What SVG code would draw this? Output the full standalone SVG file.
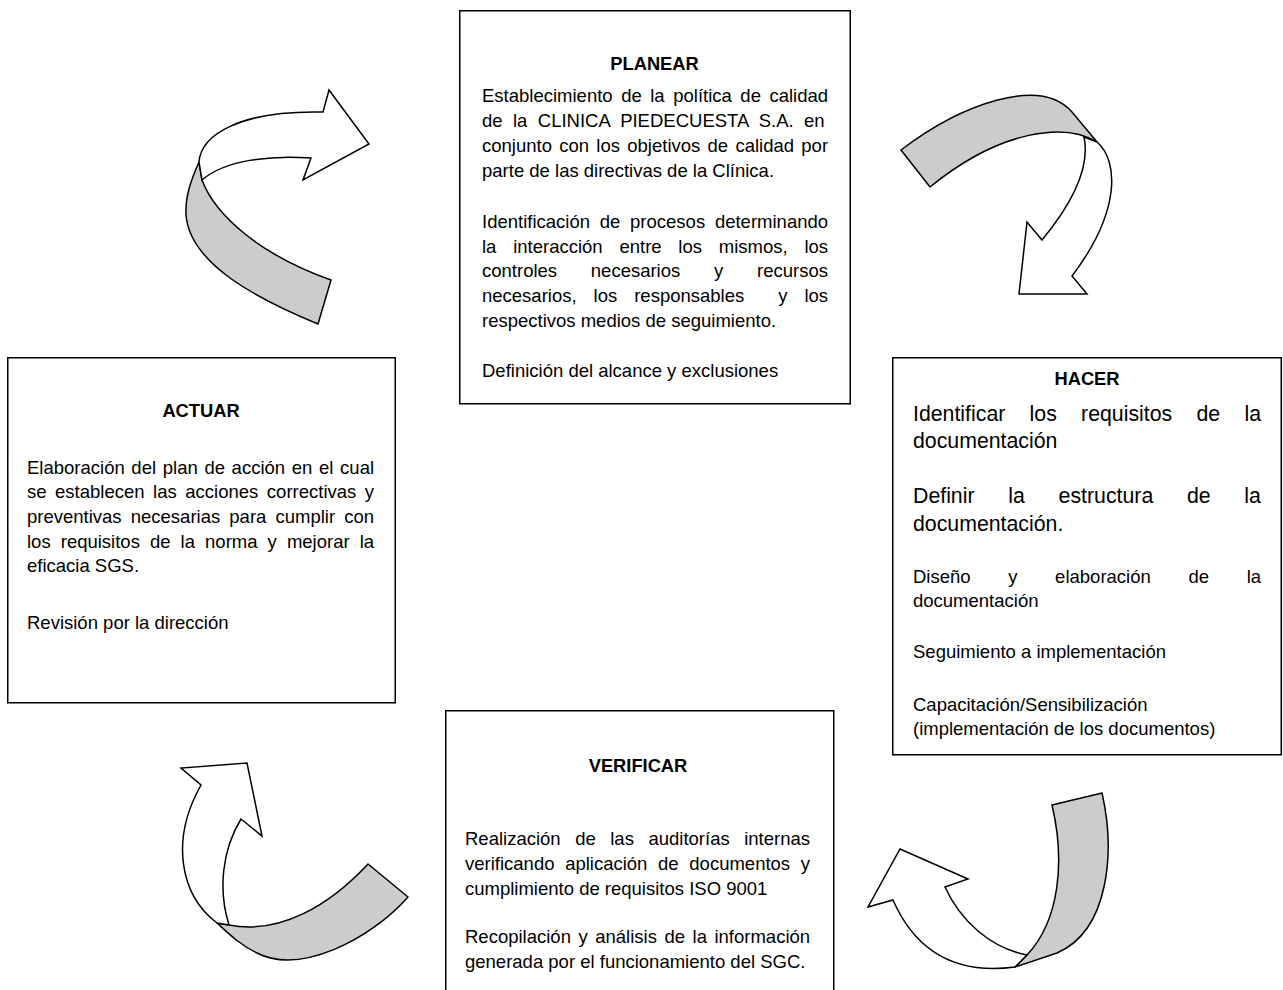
<svg xmlns="http://www.w3.org/2000/svg" width="1283" height="990" viewBox="0 0 1283 990">
  <style>
    .box { fill: #ffffff; stroke: #000000; stroke-width: 1.5; }
    .t { font-family: "Liberation Sans", Arial, sans-serif; font-size: 18.5px; fill: #000000; white-space: pre; }
    .lg { font-size: 21.3px; }
    .h { font-family: "Liberation Sans", Arial, sans-serif; font-size: 18.3px; font-weight: bold; fill: #000000; text-anchor: middle; }
    .band { fill: #cccccc; stroke: #000000; stroke-width: 1.5; stroke-linejoin: round; }
    .arrow { fill: #ffffff; stroke: #000000; stroke-width: 1.5; stroke-linejoin: miter; }
  </style>
  <rect width="1283" height="990" fill="#ffffff"/>

  <!-- curved ribbon arrows between the four phases -->
  <g id="connectors">
    <g id="arrow-actuar-planear">
      <path class="band" d="M199,162 L202,180 C215,215 260,255 331,280 L318,324 C260,300 190,265 186,215 C185,195 192,178 199,162 Z"/>
      <path class="arrow" d="M199,162 C201,135 240,110 323,112 L329,90 L369,144 L303,180 L311,158 C270,155 225,160 202,180 Z"/>
    </g>
    <g id="arrow-planear-hacer">
      <path class="band" d="M901,150 C960,105 1040,75 1072,112 L1097,142 C1065,122 1000,130 930,187 Z"/>
      <path class="arrow" d="M1084,137 L1097,142 C1118,160 1122,210 1072,276 L1087,294 L1019,294 L1027,222 L1042,240 C1075,200 1090,165 1084,137 Z"/>
    </g>
    <g id="arrow-hacer-verificar">
      <path class="band" d="M1052,805 L1102,793 C1115,850 1110,930 1057,953 L1015,967 L1027,955 C1060,920 1065,860 1052,805 Z"/>
      <path class="arrow" d="M1015,967 C955,975 915,950 893,900 L868,907 L900,849 L968,879 L945,887 C960,920 990,948 1027,955 Z"/>
    </g>
    <g id="arrow-verificar-actuar">
      <path class="band" d="M217,923 L229,925 C280,935 330,905 368,864 L408,897 C370,940 300,975 257,953 C240,945 228,933 217,923 Z"/>
      <path class="arrow" d="M217,923 C180,895 170,840 201,785 L181,768 L247,763 L262,836 L241,819 C222,850 218,890 229,925 Z"/>
    </g>
  </g>

  <!-- PLANEAR -->
  <g id="node-planear">
    <rect class="box" x="459.75" y="10.75" width="390.5" height="393"/>
    <text class="h" x="654.5" y="70">PLANEAR</text>
    <text class="t" x="482" y="101.7" word-spacing="3.4">Establecimiento de la política de calidad</text>
    <text class="t" x="482" y="126.7" word-spacing="5.26">de la CLINICA PIEDECUESTA S.A. en</text>
    <text class="t" x="482" y="151.7" word-spacing="2.14">conjunto con los objetivos de calidad por</text>
    <text class="t" x="482" y="176.7">parte de las directivas de la Clínica.</text>
    <text class="t" x="482" y="227.7" word-spacing="4.62">Identificación de procesos determinando</text>
    <text class="t" x="482" y="252.7" word-spacing="11.64">la interacción entre los mismos, los</text>
    <text class="t" x="482" y="277.2" word-spacing="28.6">controles necesarios y recursos</text>
    <text class="t" x="482" y="301.7" word-spacing="11.84">necesarios, los responsables  y los</text>
    <text class="t" x="482" y="326.7">respectivos medios de seguimiento.</text>
    <text class="t" x="482" y="376.7">Definición del alcance y exclusiones</text>
  </g>

  <!-- ACTUAR -->
  <g id="node-actuar">
    <rect class="box" x="7.75" y="357.75" width="387.5" height="345"/>
    <text class="h" x="201" y="417">ACTUAR</text>
    <text class="t" x="27" y="474" word-spacing="1.53">Elaboración del plan de acción en el cual</text>
    <text class="t" x="27" y="498.3" word-spacing="3.4">se establecen las acciones correctivas y</text>
    <text class="t" x="27" y="523" word-spacing="3.98">preventivas necesarias para cumplir con</text>
    <text class="t" x="27" y="547.5" word-spacing="4.93">los requisitos de la norma y mejorar la</text>
    <text class="t" x="27" y="571.7">eficacia SGS.</text>
    <text class="t" x="27" y="629">Revisión por la dirección</text>
  </g>

  <!-- HACER -->
  <g id="node-hacer">
    <rect class="box" x="892.75" y="357.75" width="388.5" height="397"/>
    <text class="h" x="1087" y="385">HACER</text>
    <text class="t lg" x="913" y="420.5" word-spacing="18.34">Identificar los requisitos de la</text>
    <text class="t lg" x="913" y="447.5">documentación</text>
    <text class="t lg" x="913" y="503.3" word-spacing="27.8">Definir la estructura de la</text>
    <text class="t lg" x="913" y="530.7">documentación.</text>
    <text class="t" x="913" y="582.7" word-spacing="32.5">Diseño y elaboración de la</text>
    <text class="t" x="913" y="607.3">documentación</text>
    <text class="t" x="913" y="658.3">Seguimiento a implementación</text>
    <text class="t" x="913" y="710.5">Capacitación/Sensibilización</text>
    <text class="t" x="913" y="734.8">(implementación de los documentos)</text>
  </g>

  <!-- VERIFICAR -->
  <g id="node-verificar">
    <rect class="box" x="445.75" y="710.75" width="388" height="290"/>
    <text class="h" x="638" y="772">VERIFICAR</text>
    <text class="t" x="465" y="845" word-spacing="9.38">Realización de las auditorías internas</text>
    <text class="t" x="465" y="870" word-spacing="5.53">verificando aplicación de documentos y</text>
    <text class="t" x="465" y="895">cumplimiento de requisitos ISO 9001</text>
    <text class="t" x="465" y="943.3" word-spacing="2.38">Recopilación y análisis de la información</text>
    <text class="t" x="465" y="968.3">generada por el funcionamiento del SGC.</text>
  </g>
</svg>
